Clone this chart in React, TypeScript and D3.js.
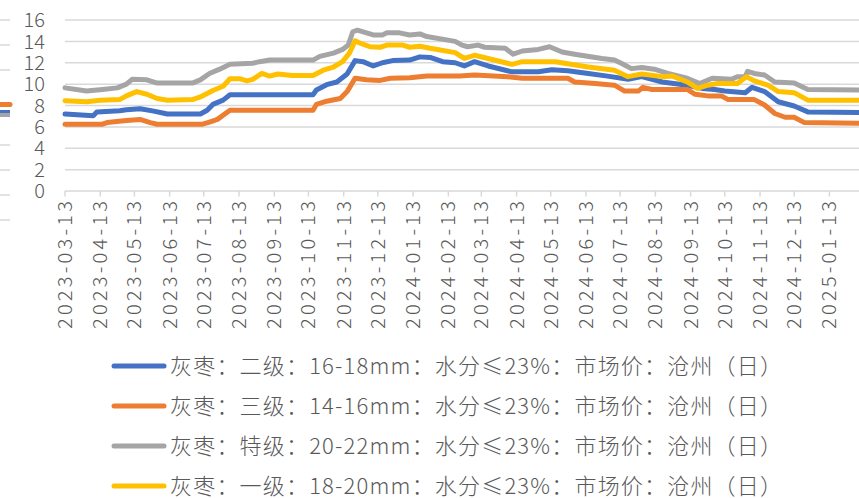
import React from "react";
import * as d3 from "d3";

const xTickLabels = [
  "2023-03-13","2023-04-13","2023-05-13","2023-06-13","2023-07-13","2023-08-13",
  "2023-09-13","2023-10-13","2023-11-13","2023-12-13","2024-01-13","2024-02-13",
  "2024-03-13","2024-04-13","2024-05-13","2024-06-13","2024-07-13","2024-08-13",
  "2024-09-13","2024-10-13","2024-11-13","2024-12-13","2025-01-13",
];
const yTicks = [0, 2, 4, 6, 8, 10, 12, 14, 16];
const dateStart = "2023-03-13";
const dateEnd = "2025-02-08";

// 灰枣：二级 (blue)
const blueDates = ["2023-03-13","2023-04-07","2023-04-10","2023-04-30","2023-05-06","2023-05-18","2023-05-29","2023-06-11","2023-07-10","2023-07-16","2023-07-21","2023-07-30","2023-08-05","2023-10-17","2023-10-20","2023-10-29","2023-11-07","2023-11-16","2023-11-23","2023-11-30","2023-12-09","2023-12-17","2023-12-26","2024-01-10","2024-01-19","2024-01-28","2024-02-08","2024-02-19","2024-02-27","2024-03-07","2024-03-19","2024-04-09","2024-05-02","2024-05-14","2024-05-28","2024-06-15","2024-07-02","2024-07-20","2024-08-01","2024-08-19","2024-09-10","2024-09-23","2024-10-04","2024-10-13","2024-10-31","2024-11-06","2024-11-17","2024-11-29","2024-12-13","2024-12-25","2025-02-08"];
const blueValues = [7.2,7.05,7.4,7.5,7.6,7.7,7.5,7.2,7.2,7.55,8.1,8.5,9.0,9.0,9.45,9.95,10.2,10.95,12.2,12.1,11.7,12.0,12.2,12.25,12.55,12.5,12.1,12.0,11.7,12.1,11.7,11.15,11.15,11.35,11.25,11.0,10.75,10.45,10.7,10.2,9.9,9.6,9.5,9.35,9.2,9.7,9.3,8.35,7.95,7.4,7.35];

// 灰枣：三级 (orange)
const orangeDates = ["2023-03-13","2023-04-15","2023-04-19","2023-05-06","2023-05-18","2023-05-27","2023-06-02","2023-07-12","2023-07-18","2023-07-25","2023-08-05","2023-10-17","2023-10-20","2023-10-29","2023-11-10","2023-11-16","2023-11-23","2023-12-03","2023-12-15","2023-12-24","2024-01-10","2024-01-25","2024-02-23","2024-03-07","2024-04-05","2024-04-18","2024-05-28","2024-06-03","2024-06-21","2024-07-08","2024-07-17","2024-07-29","2024-08-02","2024-08-10","2024-09-10","2024-09-17","2024-09-28","2024-10-10","2024-10-16","2024-11-08","2024-11-17","2024-11-26","2024-12-05","2024-12-13","2024-12-22","2025-02-08"];
const orangeValues = [6.25,6.25,6.4,6.6,6.7,6.4,6.25,6.25,6.45,6.7,7.55,7.55,8.1,8.4,8.65,9.3,10.55,10.4,10.35,10.55,10.6,10.75,10.75,10.85,10.7,10.55,10.55,10.2,10.05,9.9,9.35,9.35,9.7,9.5,9.5,9.05,8.9,8.9,8.55,8.55,8.05,7.25,6.9,6.9,6.4,6.35];

// 灰枣：特级 (gray)
const grayDates = ["2023-03-13","2023-04-01","2023-04-15","2023-04-28","2023-05-06","2023-05-11","2023-05-24","2023-06-02","2023-07-03","2023-07-10","2023-07-18","2023-07-27","2023-08-05","2023-08-25","2023-08-31","2023-09-09","2023-10-17","2023-10-23","2023-11-04","2023-11-12","2023-11-17","2023-11-21","2023-11-25","2023-12-09","2023-12-17","2023-12-21","2024-01-01","2024-01-10","2024-01-19","2024-01-25","2024-02-19","2024-02-25","2024-03-01","2024-03-10","2024-03-16","2024-04-03","2024-04-10","2024-04-18","2024-05-02","2024-05-12","2024-05-23","2024-06-03","2024-06-27","2024-07-08","2024-07-14","2024-07-23","2024-08-01","2024-08-12","2024-08-24","2024-09-10","2024-09-21","2024-10-02","2024-10-19","2024-10-24","2024-10-31","2024-11-02","2024-11-08","2024-11-17","2024-11-26","2024-12-13","2024-12-25","2025-02-08"];
const grayValues = [9.65,9.35,9.5,9.65,10.0,10.45,10.4,10.1,10.1,10.4,11.0,11.4,11.85,11.95,12.1,12.25,12.25,12.6,12.9,13.25,13.65,14.9,15.05,14.6,14.6,14.8,14.8,14.6,14.7,14.45,14.0,13.65,13.5,13.65,13.45,13.35,12.8,13.1,13.25,13.5,13.0,12.8,12.4,12.25,11.95,11.45,11.55,11.4,11.0,10.55,10.05,10.55,10.45,10.7,10.7,11.2,11.0,10.85,10.2,10.1,9.5,9.45];

// 灰枣：一级 (yellow)
const yellowDates = ["2023-03-13","2023-04-01","2023-04-13","2023-04-30","2023-05-06","2023-05-15","2023-05-24","2023-06-02","2023-06-11","2023-07-03","2023-07-10","2023-07-21","2023-07-30","2023-08-05","2023-08-14","2023-08-20","2023-08-25","2023-09-02","2023-09-09","2023-09-16","2023-09-29","2023-10-17","2023-10-26","2023-11-04","2023-11-12","2023-11-18","2023-11-23","2023-11-27","2023-12-06","2023-12-15","2023-12-21","2024-01-04","2024-01-10","2024-01-19","2024-01-28","2024-02-19","2024-02-27","2024-03-07","2024-03-19","2024-04-09","2024-04-18","2024-05-17","2024-05-28","2024-06-15","2024-07-08","2024-07-20","2024-08-01","2024-08-19","2024-08-28","2024-09-10","2024-09-19","2024-09-28","2024-10-07","2024-10-24","2024-11-01","2024-11-08","2024-11-20","2024-11-29","2024-12-13","2024-12-25","2025-02-08"];
const yellowValues = [8.45,8.35,8.5,8.55,8.9,9.3,9.05,8.65,8.5,8.55,8.8,9.4,9.8,10.5,10.5,10.3,10.45,11.0,10.75,10.95,10.8,10.8,11.3,11.6,12.1,12.9,14.05,13.85,13.5,13.45,13.65,13.65,13.45,13.55,13.35,12.95,12.4,12.7,12.4,11.85,12.1,12.1,11.9,11.6,11.3,10.7,10.95,10.7,10.75,10.2,9.6,9.9,10.05,10.05,10.7,10.3,9.9,9.3,9.2,8.5,8.5];

const seriesNames = [
  "灰枣：二级：16-18mm：水分≤23%：市场价：沧州（日）",
  "灰枣：三级：14-16mm：水分≤23%：市场价：沧州（日）",
  "灰枣：特级：20-22mm：水分≤23%：市场价：沧州（日）",
  "灰枣：一级：18-20mm：水分≤23%：市场价：沧州（日）",
];
const seriesColors = ["#4472C4", "#ED7D31", "#A5A5A5", "#FFC000"];
const seriesDates = [blueDates, orangeDates, grayDates, yellowDates];
const seriesValues = [blueValues, orangeValues, grayValues, yellowValues];

// stray fragments at the far left edge of the reference
const ghostGridY = [20, 45, 70, 145, 170, 195, 220];

const W = 859;
const H = 498;
const FONT = "'Noto Sans CJK SC', 'Liberation Sans', sans-serif";
const TEXT = "#595959";

export default function App() {
  const parse = d3.timeParse("%Y-%m-%d");
  const x = d3.scaleTime().domain([parse(dateStart)!, parse(dateEnd)!]).range([65, 859]);
  const y = d3.scaleLinear().domain([0, 16]).range([191, 20]);

  const line = d3
    .line<[Date, number]>()
    .x((d) => x(d[0]))
    .y((d) => y(d[1]))
    .curve(d3.curveLinear);

  const legendY = d3.scalePoint<number>().domain([0, 1, 2, 3]).range([366, 486]);

  return (
    <svg
      width={W}
      height={H}
      viewBox={`0 0 ${W} ${H}`}
      style={{ position: "absolute", left: 0, top: 0, background: "#fff" }}
    >
      <rect x={0} y={0} width={W} height={H} fill="#fff" />
      {/* ghost stubs at left */}
      {ghostGridY.map((gy) => (
        <line key={gy} x1={0} x2={10} y1={gy} y2={gy} stroke="#D9D9D9" strokeWidth={1.5} />
      ))}
      <line x1={0} x2={10} y1={112.5} y2={112.5} stroke="#4472C4" strokeWidth={5} />
      <line x1={0} x2={10} y1={115} y2={115} stroke="#A5A5A5" strokeWidth={4} />
      <line x1={0} x2={10} y1={104.5} y2={104.5} stroke="#ED7D31" strokeWidth={5} strokeLinecap="round" />

      {/* grid */}
      {yTicks.map((t) => (
        <line key={t} x1={65} x2={W} y1={y(t)} y2={y(t)} stroke="#D9D9D9" strokeWidth={1.5} />
      ))}
      {yTicks.map((t) => (
        <text
          key={"l" + t}
          x={45}
          y={y(t)}
          dy="0.36em"
          textAnchor="end"
          fontFamily={FONT}
          fontWeight={300}
          fontSize={20}
          fill={TEXT}
        >
          {t}
        </text>
      ))}

      {/* x axis ticks and labels */}
      {xTickLabels.map((lbl) => {
        const xx = x(parse(lbl)!);
        return (
          <g key={lbl}>
            <line x1={xx} x2={xx} y1={y(0)} y2={y(0) + 5.5} stroke="#D9D9D9" strokeWidth={1.5} />
            <text
              transform={`translate(${xx},${y(0) + 10}) rotate(-90)`}
              dy="0.35em"
              textAnchor="end"
              fontFamily={FONT}
              fontWeight={300}
              fontSize={20}
              fill={TEXT}
              textLength={128}
              lengthAdjust="spacing"
            >
              {lbl}
            </text>
          </g>
        );
      })}

      {/* series */}
      {seriesNames.map((name, i) => {
        const pts: [Date, number][] = seriesDates[i].map((d, j) => [parse(d)!, seriesValues[i][j]]);
        return (
          <path
            key={name}
            d={line(pts) || ""}
            fill="none"
            stroke={seriesColors[i]}
            strokeWidth={5}
            strokeLinejoin="round"
            strokeLinecap="round"
          />
        );
      })}

      {/* legend */}
      {seriesNames.map((name, i) => {
        const ly = legendY(i)!;
        return (
          <g key={"lg" + i}>
            <line x1={114} x2={164} y1={ly} y2={ly} stroke={seriesColors[i]} strokeWidth={5} strokeLinecap="round" />
            <text
              x={170}
              y={ly}
              dy="0.35em"
              fontFamily={FONT}
              fontWeight={300}
              fontSize={22}
              fill={TEXT}
              textLength={612}
              lengthAdjust="spacing"
            >
              {name}
            </text>
          </g>
        );
      })}
    </svg>
  );
}
